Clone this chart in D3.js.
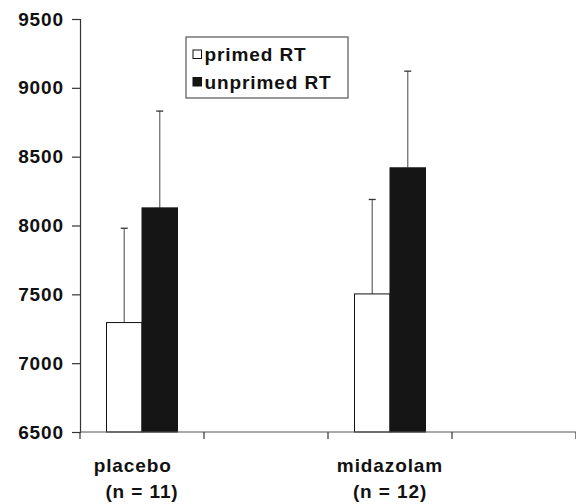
<!DOCTYPE html>
<html>
<head>
<meta charset="utf-8">
<script src="https://cdn.jsdelivr.net/npm/d3@7"></script>
<style>
  body { margin: 0; background: #fff; }
  svg text { font-family: "Liberation Sans", Arial, sans-serif; font-weight: bold; fill: #111; letter-spacing: 0.9px; }
</style>
</head>
<body>
<div id="chart"></div>
<script>
// groups on the x axis (Excel left two empty slots)
var groups = ["placebo", "", "midazolam", ""];
var groupLines = [["placebo\u00a0\u00a0\u00a0", "(n = 11)"], [], ["midazolam", "(n = 12)"], []];
var series = ["primed RT", "unprimed RT"];
var primed = [7295, null, 7503, null];
var primedErr = [685, null, 686, null];
var unprimed = [8128, null, 8419, null];
var unprimedErr = [703, null, 702, null];
var yTicks = [6500, 7000, 7500, 8000, 8500, 9000, 9500];

var w = 576, h = 504;
var padLeft = 80, padRight = 576, padTop = 19, padBottom = 432;

var xScale = d3.scaleBand().domain(d3.range(groups.length)).range([padLeft, padRight]);
var barScale = d3.scaleBand().domain(series).range([-35.5, 35.5]);
var yScale = d3.scaleLinear().domain([6500, 9500]).range([padBottom, padTop]);
var fills = {"primed RT": "#ffffff", "unprimed RT": "#151515"};

var svg = d3.select("#chart").append("svg")
    .attr("width", w)
    .attr("height", h);

// bars
var rows = [];
groups.forEach(function(g, i) {
    if (primed[i] != null) rows.push({i: i, s: "primed RT", v: primed[i], e: primedErr[i]});
    if (unprimed[i] != null) rows.push({i: i, s: "unprimed RT", v: unprimed[i], e: unprimedErr[i]});
});

function barX(d) { return xScale(d.i) + xScale.bandwidth() / 2 + barScale(d.s); }
function barMid(d) { return barX(d) + barScale.bandwidth() / 2; }

// error bars (plus direction only)
svg.selectAll("line.err")
    .data(rows)
    .enter().append("line")
    .attr("class", "err")
    .attr("x1", barMid).attr("x2", barMid)
    .attr("y1", function(d) { return yScale(d.v); })
    .attr("y2", function(d) { return yScale(d.v + d.e); })
    .attr("stroke", "#707070")
    .attr("stroke-width", 1.3);

svg.selectAll("line.cap")
    .data(rows)
    .enter().append("line")
    .attr("class", "cap")
    .attr("x1", function(d) { return barMid(d) - 3.5; })
    .attr("x2", function(d) { return barMid(d) + 3.5; })
    .attr("y1", function(d) { return yScale(d.v + d.e); })
    .attr("y2", function(d) { return yScale(d.v + d.e); })
    .attr("stroke", "#333")
    .attr("stroke-width", 1.3);

svg.selectAll("rect.bar")
    .data(rows)
    .enter().append("rect")
    .attr("class", "bar")
    .attr("x", barX)
    .attr("y", function(d) { return yScale(d.v); })
    .attr("width", barScale.bandwidth())
    .attr("height", function(d) { return padBottom - yScale(d.v); })
    .attr("fill", function(d) { return fills[d.s]; })
    .attr("stroke", function(d) { return d.s == "primed RT" ? "#111" : "#151515"; })
    .attr("stroke-width", 1);

// y axis
var yAxis = d3.axisLeft(yScale).tickValues(yTicks).tickSize(8).tickPadding(8).tickFormat(d3.format("d"));
var gy = svg.append("g")
    .attr("transform", "translate(" + padLeft + ",0)")
    .call(yAxis);
gy.select(".domain").attr("stroke", "#333").attr("stroke-width", 1.2);
gy.selectAll(".tick line").attr("stroke", "#333").attr("stroke-width", 1.2);
gy.selectAll(".tick text").style("font-size", "19px").attr("fill", "#111");

// x axis
var gx = svg.append("g")
    .attr("transform", "translate(0," + padBottom + ")");
gx.append("line")
    .attr("x1", padLeft).attr("x2", padRight)
    .attr("stroke", "#555").attr("stroke-width", 1.2);
gx.selectAll("line.xtick")
    .data(d3.range(groups.length + 1))
    .enter().append("line")
    .attr("class", "xtick")
    .attr("x1", function(i) { return padLeft + i * xScale.step(); })
    .attr("x2", function(i) { return padLeft + i * xScale.step(); })
    .attr("y1", 0).attr("y2", 7)
    .attr("stroke", "#333").attr("stroke-width", 1.2);

var labels = gx.selectAll("text.xlab")
    .data(groupLines)
    .enter().append("text")
    .attr("class", "xlab")
    .attr("text-anchor", "middle")
    .style("font-size", "19px")
    .style("white-space", "pre")
    .attr("x", function(d, i) { return xScale(i) + xScale.bandwidth() / 2; })
    .attr("y", 40);
labels.selectAll("tspan")
    .data(function(d) { return d; })
    .enter().append("tspan")
    .attr("x", function() { return d3.select(this.parentNode).attr("x"); })
    .attr("dy", function(d, j) { return j == 0 ? 0 : 26; })
    .text(function(d) { return d; });

// legend
var legend = svg.append("g").attr("transform", "translate(186,37)");
legend.append("rect")
    .attr("width", 162).attr("height", 61)
    .attr("fill", "#fff")
    .attr("stroke", "#555").attr("stroke-width", 1.2);
var items = legend.selectAll("g.item")
    .data(series)
    .enter().append("g")
    .attr("class", "item")
    .attr("transform", function(d, i) { return "translate(7," + (13 + i * 27.5) + ")"; });
items.append("rect")
    .attr("width", 8.5).attr("height", 8.5)
    .attr("fill", function(d) { return fills[d]; })
    .attr("stroke", "#111").attr("stroke-width", 1);
items.append("text")
    .attr("x", 11.5).attr("y", 4.5).attr("dy", "0.35em")
    .style("font-size", "19px")
    .text(function(d) { return d; });
</script>
</body>
</html>
